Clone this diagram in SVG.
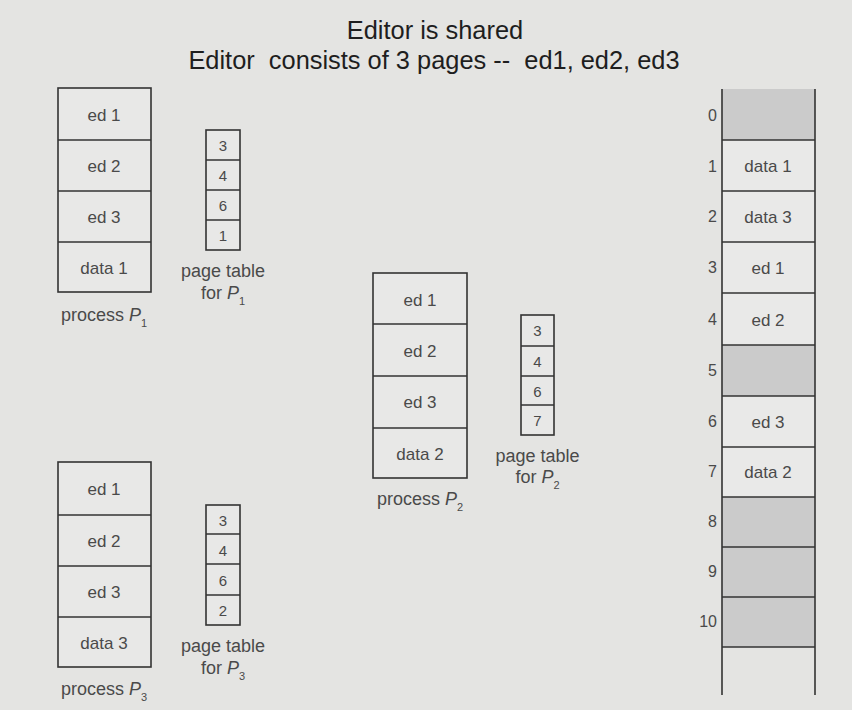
<svg xmlns="http://www.w3.org/2000/svg" width="852" height="710" viewBox="0 0 852 710">
<style>
.bg{fill:#e4e4e2}
.box{fill:#e8e8e7;stroke:#333;stroke-width:1.6}
.shade{fill:#cbcbcb}
.ln{stroke:#333;stroke-width:1.6;fill:none}
.t{font-family:"Liberation Sans",Arial,sans-serif;fill:#4a4a4a}
.lab{font-size:17px;text-anchor:middle}
.pt{font-size:15px;text-anchor:middle}
.cap{font-size:18px;text-anchor:middle}
.num{font-size:16px;text-anchor:end}
.title{font-family:"Liberation Sans",Arial,sans-serif;font-size:25.4px;fill:#1e1e1e;text-anchor:middle;white-space:pre}
</style>
<rect class="bg" x="0" y="0" width="852" height="710"/>
<g id="title">
<text class="title" x="435" y="39">Editor is shared</text>
<text class="title" x="434" y="69" xml:space="preserve">Editor  consists of 3 pages --  ed1, ed2, ed3</text>
</g>
<g id="process-p1">
<rect class="box" x="58" y="88" width="93" height="204"/>
<line class="ln" x1="58" y1="140" x2="151" y2="140"/>
<line class="ln" x1="58" y1="191" x2="151" y2="191"/>
<line class="ln" x1="58" y1="242" x2="151" y2="242"/>
<text class="t lab" x="104" y="121">ed 1</text>
<text class="t lab" x="104" y="172">ed 2</text>
<text class="t lab" x="104" y="223">ed 3</text>
<text class="t lab" x="104" y="274">data 1</text>
<text class="t cap" x="104" y="321">process <tspan font-style="italic">P</tspan><tspan font-size="11" dy="6">1</tspan></text>
</g>
<g id="pagetable-p1">
<rect class="box" x="206" y="130" width="34" height="120"/>
<line class="ln" x1="206" y1="160" x2="240" y2="160"/>
<line class="ln" x1="206" y1="190" x2="240" y2="190"/>
<line class="ln" x1="206" y1="220" x2="240" y2="220"/>
<text class="t pt" x="223" y="151">3</text>
<text class="t pt" x="223" y="181">4</text>
<text class="t pt" x="223" y="211">6</text>
<text class="t pt" x="223" y="241">1</text>
<text class="t cap" x="223" y="277">page table</text>
<text class="t cap" x="223" y="299">for <tspan font-style="italic">P</tspan><tspan font-size="11" dy="6">1</tspan></text>
</g>
<g id="process-p2">
<rect class="box" x="373" y="273" width="94" height="205"/>
<line class="ln" x1="373" y1="324" x2="467" y2="324"/>
<line class="ln" x1="373" y1="376" x2="467" y2="376"/>
<line class="ln" x1="373" y1="428" x2="467" y2="428"/>
<text class="t lab" x="420" y="306">ed 1</text>
<text class="t lab" x="420" y="357">ed 2</text>
<text class="t lab" x="420" y="408">ed 3</text>
<text class="t lab" x="420" y="460">data 2</text>
<text class="t cap" x="420" y="505">process <tspan font-style="italic">P</tspan><tspan font-size="11" dy="6">2</tspan></text>
</g>
<g id="pagetable-p2">
<rect class="box" x="521" y="315" width="33" height="120"/>
<line class="ln" x1="521" y1="346" x2="554" y2="346"/>
<line class="ln" x1="521" y1="376" x2="554" y2="376"/>
<line class="ln" x1="521" y1="405" x2="554" y2="405"/>
<text class="t pt" x="537.5" y="336">3</text>
<text class="t pt" x="537.5" y="367">4</text>
<text class="t pt" x="537.5" y="397">6</text>
<text class="t pt" x="537.5" y="426">7</text>
<text class="t cap" x="537.5" y="462">page table</text>
<text class="t cap" x="537.5" y="483">for <tspan font-style="italic">P</tspan><tspan font-size="11" dy="6">2</tspan></text>
</g>
<g id="process-p3">
<rect class="box" x="58" y="462" width="93" height="205"/>
<line class="ln" x1="58" y1="515" x2="151" y2="515"/>
<line class="ln" x1="58" y1="566" x2="151" y2="566"/>
<line class="ln" x1="58" y1="617" x2="151" y2="617"/>
<text class="t lab" x="104" y="495">ed 1</text>
<text class="t lab" x="104" y="547">ed 2</text>
<text class="t lab" x="104" y="598">ed 3</text>
<text class="t lab" x="104" y="649">data 3</text>
<text class="t cap" x="104" y="695">process <tspan font-style="italic">P</tspan><tspan font-size="11" dy="6">3</tspan></text>
</g>
<g id="pagetable-p3">
<rect class="box" x="206" y="505" width="34" height="120"/>
<line class="ln" x1="206" y1="534" x2="240" y2="534"/>
<line class="ln" x1="206" y1="564" x2="240" y2="564"/>
<line class="ln" x1="206" y1="595" x2="240" y2="595"/>
<text class="t pt" x="223" y="526">3</text>
<text class="t pt" x="223" y="556">4</text>
<text class="t pt" x="223" y="586">6</text>
<text class="t pt" x="223" y="616">2</text>
<text class="t cap" x="223" y="652">page table</text>
<text class="t cap" x="223" y="674">for <tspan font-style="italic">P</tspan><tspan font-size="11" dy="6">3</tspan></text>
</g>
<g id="memory">
<rect x="722" y="89" width="93" height="558" fill="#e9e9e8"/>
<rect class="shade" x="722" y="89" width="93" height="51"/>
<rect class="shade" x="722" y="345" width="93" height="51"/>
<rect class="shade" x="722" y="497" width="93" height="150"/>
<line class="ln" x1="722" y1="140" x2="815" y2="140"/>
<line class="ln" x1="722" y1="191" x2="815" y2="191"/>
<line class="ln" x1="722" y1="242" x2="815" y2="242"/>
<line class="ln" x1="722" y1="293" x2="815" y2="293"/>
<line class="ln" x1="722" y1="345" x2="815" y2="345"/>
<line class="ln" x1="722" y1="396" x2="815" y2="396"/>
<line class="ln" x1="722" y1="447" x2="815" y2="447"/>
<line class="ln" x1="722" y1="497" x2="815" y2="497"/>
<line class="ln" x1="722" y1="547" x2="815" y2="547"/>
<line class="ln" x1="722" y1="597" x2="815" y2="597"/>
<line class="ln" x1="722" y1="647" x2="815" y2="647"/>
<line class="ln" x1="722" y1="89" x2="722" y2="695"/>
<line class="ln" x1="815" y1="89" x2="815" y2="695"/>
<text class="t lab" x="768" y="172">data 1</text>
<text class="t lab" x="768" y="223">data 3</text>
<text class="t lab" x="768" y="274">ed 1</text>
<text class="t lab" x="768" y="326">ed 2</text>
<text class="t lab" x="768" y="428">ed 3</text>
<text class="t lab" x="768" y="478">data 2</text>
<text class="t num" x="717" y="121">0</text>
<text class="t num" x="717" y="172">1</text>
<text class="t num" x="717" y="222">2</text>
<text class="t num" x="717" y="273">3</text>
<text class="t num" x="717" y="325">4</text>
<text class="t num" x="717" y="376">5</text>
<text class="t num" x="717" y="427">6</text>
<text class="t num" x="717" y="477">7</text>
<text class="t num" x="717" y="527">8</text>
<text class="t num" x="717" y="577">9</text>
<text class="t num" x="717" y="627">10</text>
</g>
<g id="connectors"></g>
</svg>
